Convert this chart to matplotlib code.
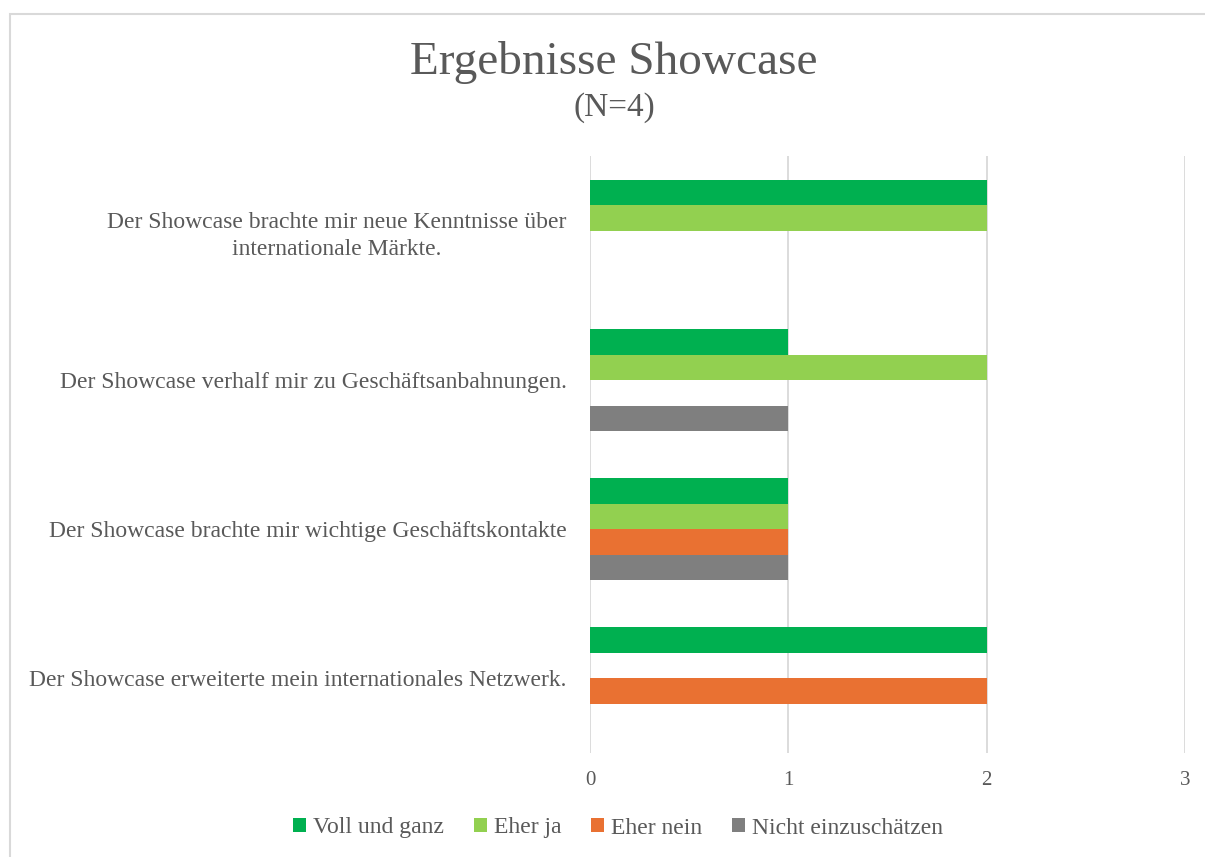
import matplotlib.pyplot as plt
from matplotlib.patches import Patch, Rectangle
import numpy as np

# data
questions = ['Der Showcase brachte mir neue Kenntnisse über\ninternationale Märkte.',
             'Der Showcase verhalf mir zu Geschäftsanbahnungen.',
             'Der Showcase brachte mir wichtige Geschäftskontakte',
             'Der Showcase erweiterte mein internationales Netzwerk.']
series = ['Voll und ganz', 'Eher ja', 'Eher nein', 'Nicht einzuschätzen']
voll = [2, 1, 1, 2]
eher_ja = [2, 2, 1, 0]
eher_nein = [0, 0, 1, 2]
nicht = [0, 1, 1, 0]
colors = ['#00B050', '#92D050', '#E97132', '#7F7F7F']

plt.rcParams['font.family'] = ['Liberation Serif', 'DejaVu Serif']
txt = '#595959'

W, H = 1205, 857
fig = plt.figure(figsize=(W / 100, H / 100), dpi=100)

# light border of the chart area
fig.patches.append(Rectangle((9.5 / W, -0.1), 1.2, 1 - 13.5 / H + 0.1, transform=fig.transFigure,
                             fill=False, edgecolor='#D9D9D9', linewidth=1.5))

ax = fig.add_axes([590 / W, (H - 753) / H, 595 / W, 596.6 / H])

y = np.arange(len(questions))
h = 25.5 / 149.25
for i, (vals, c) in enumerate(zip([voll, eher_ja, eher_nein, nicht], colors)):
    ax.barh(y + (i - 1.5) * h, vals, height=h, color=c, zorder=3)

ax.set_xlim(0, 3)
ax.set_ylim(3.5, -0.5)
ax.set_xticks([0, 1, 2, 3])
ax.grid(axis='x', color='#D9D9D9', linewidth=1.3, zorder=0)
for s in ax.spines.values():
    s.set_visible(False)
ax.tick_params(axis='x', length=0, pad=13, labelsize=15, labelcolor=txt)
ax.tick_params(axis='y', length=0, pad=17, labelsize=17, labelcolor=txt)
ax.set_yticks(y)
ax.set_yticklabels(questions, multialignment='center', linespacing=1.35)

fig.text(614 / W, 1 - 62 / H, 'Ergebnisse Showcase', ha='center', va='center', fontsize=34, color=txt)
fig.text(614 / W, 1 - 108 / H, '(N=4)', ha='center', va='center', fontsize=24, color=txt)

handles = [Patch(facecolor=c, edgecolor='none') for c in colors]
fig.legend(handles, series, loc='center', bbox_to_anchor=(618 / W, 1 - 828 / H), ncol=4,
           frameon=False, fontsize=17, labelcolor=txt, handlelength=0.55, handleheight=0.55,
           handletextpad=0.3, columnspacing=1.25)

fig.savefig('out.png', dpi=100, facecolor='white')
